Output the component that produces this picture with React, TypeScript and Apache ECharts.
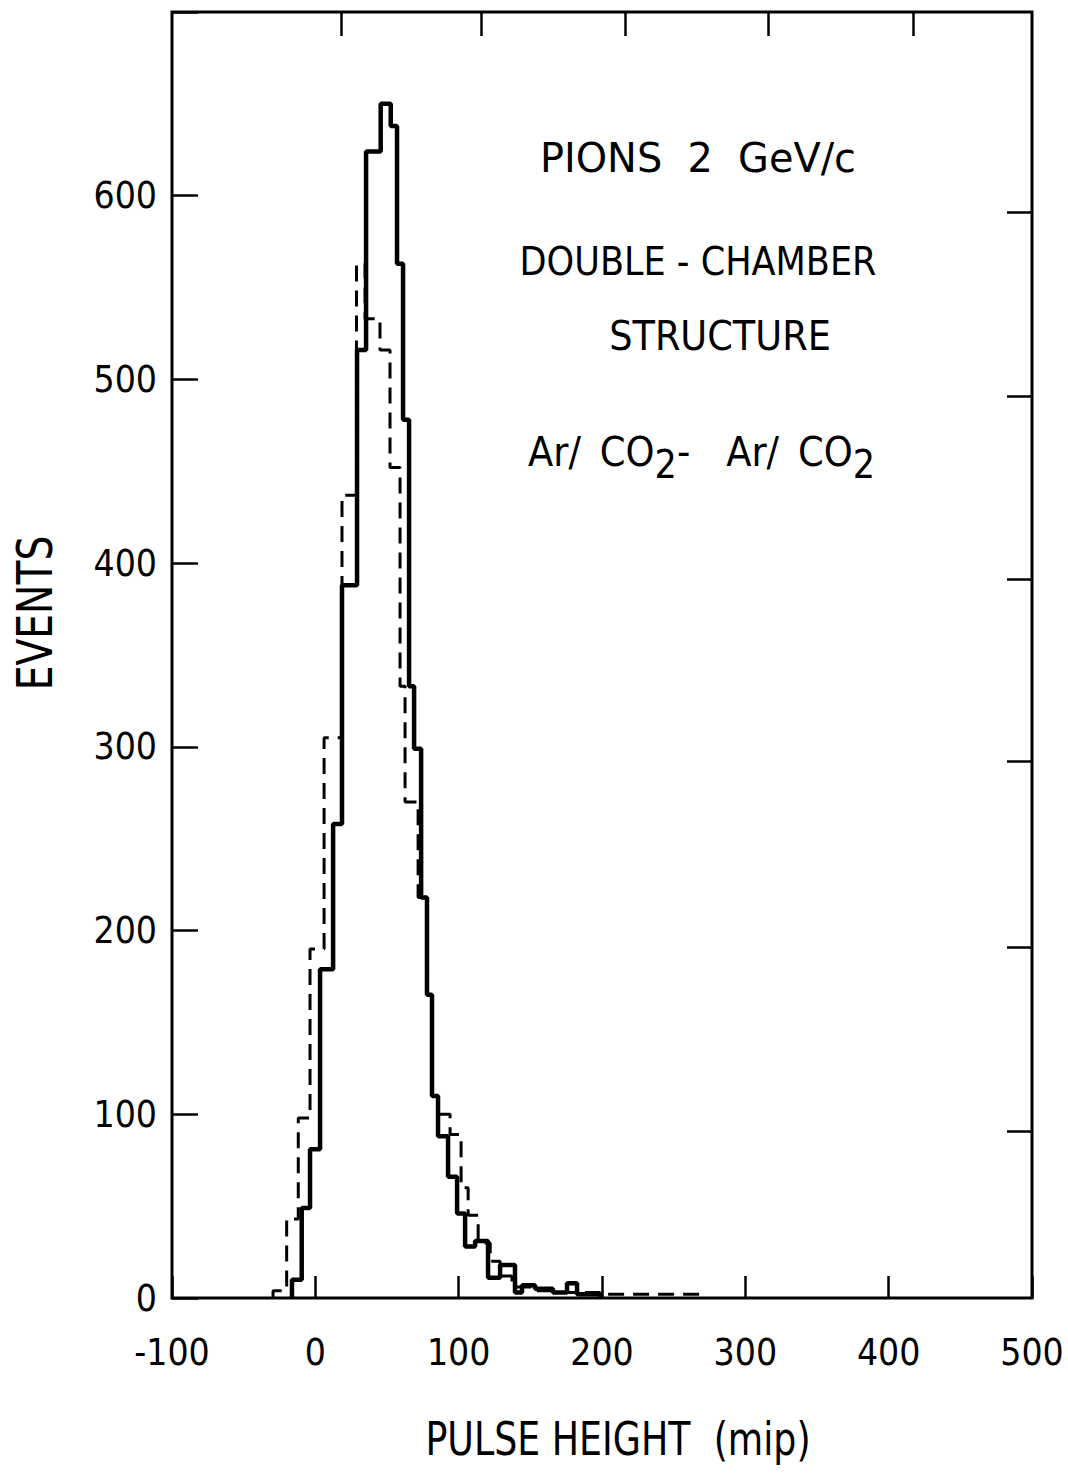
import React, { useEffect, useRef } from "react";
import * as echarts from "echarts";

// Bin edges (mip) and event counts
const solidEdges = [
  -16.3, -9.5, -3.7, 3.3, 12.4, 18.6, 29.1, 35.4, 45.6, 52.6, 57.0, 61.2, 65.4,
  68.9, 73.8, 77.9, 81.4, 85.6, 92.6, 98.9, 104.5, 111.5, 120.5, 128.9, 139.3,
  144.2, 153.3, 165.8, 175.6, 182.6, 189.6, 198.7,
];
const solidCounts = [
  10, 49, 81, 179, 258, 388, 516, 624, 650, 638, 563, 478, 333, 299, 218, 165,
  110, 88, 66, 46, 28, 31, 11, 18, 3, 7, 5, 3, 8, 2, 2,
];

const dashedEdges = [
  -29.5, -20.0, -11.9, -3.7, 6.1, 18.6, 28.7, 34.7, 45.1, 52.1, 59.1, 62.6, 71.7,
  77.9, 81.4, 85.6, 94.0, 101.7, 106.6, 113.6, 122.0, 128.9, 137.2, 149.8, 170.7,
  198.6, 271.9,
];
const dashedCounts = [
  4, 43, 98, 190, 305, 437, 563, 533, 516, 452, 333, 270, 218, 165, 110, 100, 89,
  60, 45, 30, 20, 12, 6, 4, 3, 2,
];

const topTickValues = [18, 116, 216, 316, 417];
const rightTickValues = [91, 191, 292, 391, 491, 591];

const FONT = "'DejaVu Sans Condensed', 'DejaVu Sans', sans-serif";

function toSteps(edges: number[], counts: number[]): number[][] {
  const pts: number[][] = [[edges[0], 0]];
  for (let i = 0; i < counts.length; i++) pts.push([edges[i], counts[i]]);
  pts.push([edges[edges.length - 1], 0]);
  return pts;
}

function label(x: number, y: number, text: string, fontSize: number, scaleX: number, extra: any = {}) {
  return {
    type: "text",
    x,
    y,
    scaleX,
    ...extra,
    style: {
      text,
      fontFamily: FONT,
      fontSize,
      fill: "#000",
      align: "center",
      verticalAlign: "middle",
      textAlign: "center",
      textVerticalAlign: "middle",
    },
  };
}

export default function App() {
  const ref = useRef<HTMLDivElement>(null);
  useEffect(() => {
    if (!ref.current) return;
    const chart = echarts.init(ref.current, undefined, { renderer: "svg" });
    const tickStyle = { color: "#000", width: 2.5 };
    const noLine = { show: false, onZero: false };
    const tok = (padLeft: number) => ({
      fontFamily: FONT,
      fontSize: 41,
      lineHeight: 50,
      padding: [0, 0, 0, padLeft],
      fill: "#000",
      color: "#000",
    });
    chart.setOption({
      animation: false,
      backgroundColor: "#fff",
      grid: {
        left: 172,
        right: 36,
        top: 12,
        bottom: 177,
        show: true,
        borderColor: "#000",
        borderWidth: 3,
        backgroundColor: "transparent",
      },
      xAxis: [
        {
          type: "value",
          min: -100,
          max: 500,
          interval: 100,
          position: "bottom",
          axisLine: noLine,
          splitLine: { show: false },
          axisTick: { show: true, inside: true, length: 22, lineStyle: tickStyle },
          axisLabel: { fontFamily: FONT, fontSize: 37, color: "#000", margin: 36 },
        },
        {
          type: "value",
          min: -100,
          max: 500,
          position: "top",
          axisLine: noLine,
          splitLine: { show: false },
          axisLabel: { show: false },
          axisTick: {
            show: true,
            inside: true,
            length: 24,
            customValues: topTickValues,
            lineStyle: tickStyle,
          },
        },
      ],
      yAxis: [
        {
          type: "value",
          min: 0,
          max: 700,
          interval: 100,
          position: "left",
          axisLine: noLine,
          splitLine: { show: false },
          axisTick: { show: true, inside: true, length: 26, lineStyle: tickStyle },
          axisLabel: {
            fontFamily: FONT,
            fontSize: 37,
            color: "#000",
            margin: 15,
            formatter: (v: number) => (v === 700 ? "" : String(v)),
          },
        },
        {
          type: "value",
          min: 0,
          max: 700,
          position: "right",
          axisLine: noLine,
          splitLine: { show: false },
          axisLabel: { show: false },
          axisTick: {
            show: true,
            inside: true,
            length: 25,
            customValues: rightTickValues,
            lineStyle: tickStyle,
          },
        },
      ],
      series: [
        {
          type: "line",
          name: "dashed",
          step: "end",
          symbol: "none",
          showSymbol: false,
          data: toSteps(dashedEdges, dashedCounts),
          lineStyle: { color: "#000", width: 3, type: [16, 9] },
          z: 2,
        },
        {
          type: "line",
          name: "solid",
          step: "end",
          symbol: "none",
          showSymbol: false,
          data: toSteps(solidEdges, solidCounts),
          lineStyle: { color: "#000", width: 4.5, type: "solid" },
          z: 3,
        },
      ],
      graphic: [
        label(35, 613, "EVENTS", 49, 0.89, { rotation: Math.PI / 2 }),
        label(618, 1438, "PULSE HEIGHT  (mip)", 47, 0.86),
        label(698, 158, "PIONS  2  GeV/c", 41, 1.08),
        label(698, 261, "DOUBLE - CHAMBER", 39, 1),
        label(720, 336, "STRUCTURE", 40, 1.02),
        {
          type: "text",
          x: 528,
          y: 452,
          style: {
            text: "{a|Ar/}{b|CO}{s|2}{c|-}{d|Ar/}{b|CO}{s|2}",
            fill: "#000",
            align: "left",
            verticalAlign: "middle",
            textAlign: "left",
            textVerticalAlign: "middle",
            rich: {
              a: tok(0),
              b: tok(19),
              c: tok(0),
              d: tok(36),
              s: {
                fontFamily: FONT,
                fontSize: 39,
                lineHeight: 39,
                padding: [24, 0, 0, 0],
                fill: "#000",
                color: "#000",
              },
            },
          },
        },
      ],
    });
    return () => chart.dispose();
  }, []);
  return (
    <div
      ref={ref}
      style={{ position: "absolute", left: 0, top: 0, width: 1068, height: 1475 }}
    />
  );
}
